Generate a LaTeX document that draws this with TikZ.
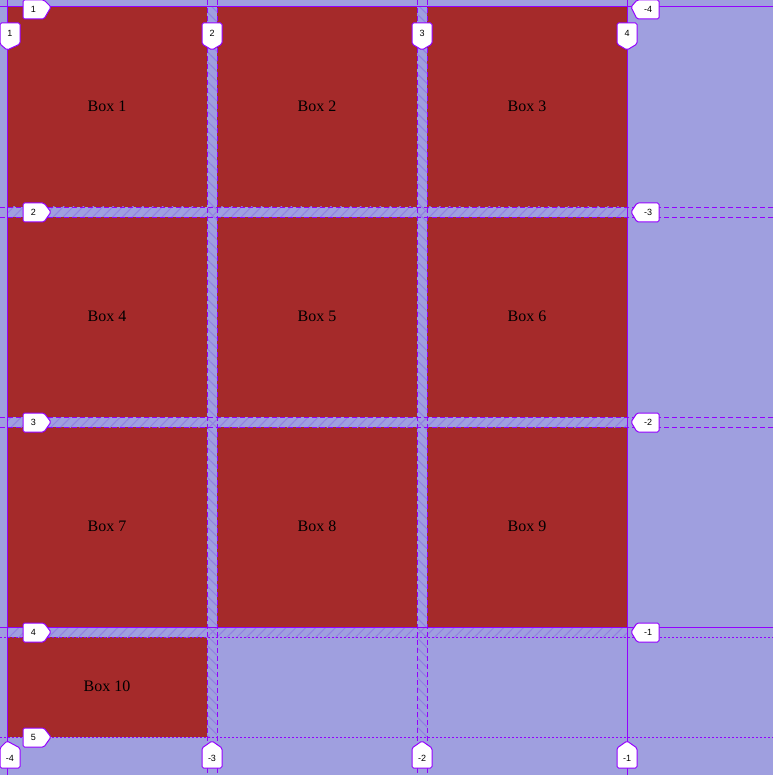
\documentclass[tikz,border=0pt]{standalone}
\usepackage{fontspec}
\setmainfont{Liberation Serif}
\newfontfamily\tagfont{Liberation Sans}
\usetikzlibrary{calc}
\usetikzlibrary{patterns.meta}
\definecolor{boxBrown}{RGB}{165,42,42}
\definecolor{bgLavender}{RGB}{159,159,223}
\definecolor{gridViolet}{RGB}{148,0,255}
\definecolor{hatchViolet}{RGB}{146,128,226}

\begin{document}
\begin{tikzpicture}[
    x=1pt,
    y=-1pt,
    line join=round,
    cellblock/.style={
        fill=boxBrown
    },
    rowgap/.style={
        pattern={Lines[angle=45,distance=7pt,line width=1pt]},
        pattern color=hatchViolet
    },
    colgap/.style={
        pattern={Lines[angle=-45,distance=7pt,line width=1pt]},
        pattern color=hatchViolet
    },
    solidline/.style={
        draw=gridViolet,
        line width=1pt
    },
    dashline/.style={
        draw=gridViolet,
        line width=0.8pt,
        dash pattern=on 5pt off 3pt
    },
    dotline/.style={
        draw=gridViolet,
        line width=0.8pt,
        dash pattern=on 2pt off 2pt
    },
    tag/.style={
        draw=gridViolet,
        fill=white,
        line width=1pt,
        rounded corners=1.5pt
    },
    tagtext/.style={
        font=\tagfont\fontsize{9}{9}\selectfont,
        inner sep=0pt
    },
    boxtext/.style={
        font=\fontsize{16}{16}\selectfont,
        inner sep=0pt
    }
]

    \useasboundingbox (0,0) rectangle (773,775);
    \fill[bgLavender] (0,0) rectangle (773,775);

    \coordinate (G0) at (7,7);
    \coordinate (DX) at (210,0);
    \coordinate (DY) at (0,210);

    % grid cells
    \foreach \i in {0,...,2} {
        \foreach \j in {0,...,2} {
            \path[cellblock]
            ($ (G0) + \i*(DX) + \j*(DY) $)
            rectangle
            ($ (G0) + \i*(DX) + \j*(DY) + (200,200) $);
        }
    }
    \path[cellblock] ($ (G0) + 3*(DY) $) rectangle ($ (G0) + 3*(DY) + (200,100) $);

    % gaps
    \foreach \y in {207,417,627} {
        \path[rowgap] (7,\y) rectangle (627,\y+10);
    }
    \foreach \x in {207,417} {
        \path[colgap] (\x,7) rectangle (\x+10,737);
    }

    % grid lines
    \foreach \v in {207,217,417,427} {
        \draw[dashline] (\v,0) -- (\v,775);
        \draw[dashline] (0,\v) -- (773,\v);
    }
    \foreach \v in {637,737} {
        \draw[dotline] (0,\v) -- (773,\v);
    }
    \foreach \v in {7,627} {
        \draw[solidline] (\v,0) -- (\v,775);
        \draw[solidline] (0,\v) -- (773,\v);
    }

    % cell texts
    \foreach \n/\cx/\cy in {1/107/106, 2/317/106, 3/527/106,
                            4/107/316, 5/317/316, 6/527/316,
                            7/107/526, 8/317/526, 9/527/526,
                            10/107/686} {
        \node[boxtext] (box\n) at (\cx,\cy) {Box \n};
    }

    % column tags, top
    \foreach \x/\l/\t [count=\k] in {7/0/1, 212/202/2, 422/412/3, 627/617/4} {
        \path[tag] (\l,23) -- ({\l+20},23) -- ({\l+20},44) -- (\x,50) -- (\l,44) -- cycle;
        \node[tagtext] (colTop\k) at ({\l+10},33.5) {\t};
    }

    % column tags, bottom
    \foreach \x/\l/\t [count=\k] in {7/0/-4, 212/202/-3, 422/412/-2, 627/617/-1} {
        \path[tag] (\l,768) -- ({\l+20},768) -- ({\l+20},748) -- (\x,741) -- (\l,748) -- cycle;
        \node[tagtext] (colBot\k) at ({\l+10},758) {\t};
    }

    % row tags, left
    \foreach \y/\s/\t [count=\k] in {7/0/1, 212/203/2, 422/413/3, 632/623/4, 737/728/5} {
        \path[tag] (23,\s) -- (44,\s) -- (51,\y) -- (44,{\s+19}) -- (23,{\s+19}) -- cycle;
        \node[tagtext] (rowLeft\k) at (33.5,{\s+9.5}) {\t};
    }

    % row tags, right
    \foreach \y/\s/\t [count=\k] in {7/0/-4, 212/203/-3, 422/413/-2, 632/623/-1} {
        \path[tag] (659,\s) -- (637,\s) -- (631,\y) -- (637,{\s+19}) -- (659,{\s+19}) -- cycle;
        \node[tagtext] (rowRight\k) at (648,{\s+9.5}) {\t};
    }

\end{tikzpicture}
\end{document}
